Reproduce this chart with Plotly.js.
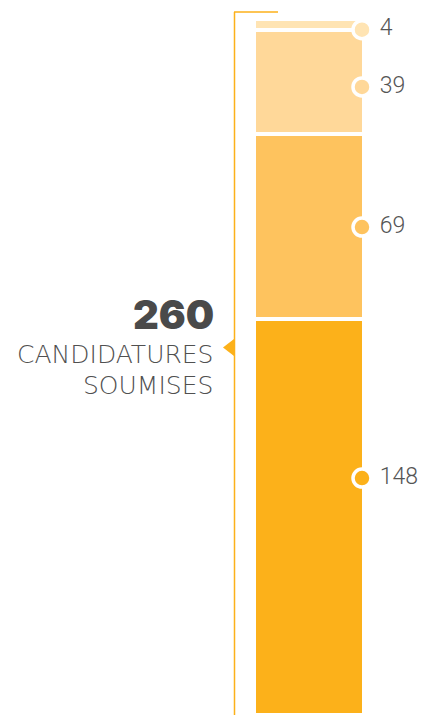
<!DOCTYPE html>
<html>
<head>
<meta charset="utf-8">
<script src="https://cdn.plot.ly/plotly-3.0.1.min.js"></script>
<style>
  html, body { margin: 0; padding: 0; background: #fff; }
  #myDiv { width: 428px; height: 715px; }
</style>
</head>
<body>
<div id="myDiv"></div>
<script>
// segments, bottom to top
const values = [148, 69, 39, 4];
const colors = ['#FCB11A', '#FEC35E', '#FFD899', '#FFE4B3'];
// where the dot + label sits on each segment (in chart units)
const dotPos = [88.4, 182.2, 234.6, 256];
const total = 260;
const totalLabel = ['CANDIDATURES', 'SOUMISES'];

const barX = 309;
const pxPerUnit = 2.675;
const zeroPx = 714.5;
const yMin = -(715 - zeroPx) / pxPerUnit;
const yMax = yMin + 715 / pxPerUnit;

function py(px) { return 1 - px / 715; }

const traces = values.map((v, i) => ({
    type: 'bar',
    x: [barX],
    y: [v],
    width: [110],
    marker: { color: colors[i], line: { color: '#fff', width: 4 } },
    hoverinfo: 'skip',
    showlegend: false
}));

traces.push({
    type: 'scatter',
    mode: 'markers+text',
    x: values.map(() => barX + 53),
    y: dotPos,
    text: values.map(v => ' ' + v),
    textposition: 'middle right',
    textfont: { family: 'Roboto', size: 23, color: '#555', weight: 300 },
    marker: { size: 18, color: colors, line: { color: '#fff', width: 3.5 } },
    cliponaxis: false,
    hoverinfo: 'skip',
    showlegend: false
});

const layout = {
    width: 428,
    height: 715,
    margin: { t: 0, b: 0, l: 0, r: 0 },
    paper_bgcolor: '#fff',
    plot_bgcolor: '#fff',
    barmode: 'stack',
    xaxis: { range: [0, 428], visible: false, fixedrange: true },
    yaxis: { range: [yMin, yMax], visible: false, fixedrange: true },
    shapes: [
        {
            type: 'line', xref: 'x', yref: 'paper',
            x0: 234.5, x1: 234.5, y0: py(12), y1: py(716),
            line: { color: '#FCB11A', width: 1.5 }
        },
        {
            type: 'line', xref: 'x', yref: 'paper',
            x0: 234, x1: 278, y0: py(12), y1: py(12),
            line: { color: '#FCB11A', width: 1.5 }
        },
        {
            type: 'path', xref: 'x', yref: 'paper',
            path: `M 234 ${py(339)} L 223 ${py(347.5)} L 234 ${py(356)} Z`,
            fillcolor: '#FCB11A', line: { width: 0 }
        }
    ],
    annotations: [
        {
            xref: 'x', yref: 'paper', x: 216, y: py(314),
            xanchor: 'right', yanchor: 'middle', showarrow: false,
            text: String(total),
            font: { family: 'Inter', size: 40, color: '#4a4a4a', weight: 900 }
        },
        {
            xref: 'x', yref: 'paper', x: 215, y: py(354),
            xanchor: 'right', yanchor: 'middle', showarrow: false,
            text: totalLabel[0],
            font: { family: 'DejaVu Sans', size: 25, color: '#505050', weight: 200 }
        },
        {
            xref: 'x', yref: 'paper', x: 215, y: py(386),
            xanchor: 'right', yanchor: 'middle', showarrow: false,
            text: totalLabel[1],
            font: { family: 'DejaVu Sans', size: 25, color: '#505050', weight: 200 }
        }
    ]
};

Plotly.newPlot('myDiv', traces, layout, { displayModeBar: false, staticPlot: true });
</script>
</body>
</html>
